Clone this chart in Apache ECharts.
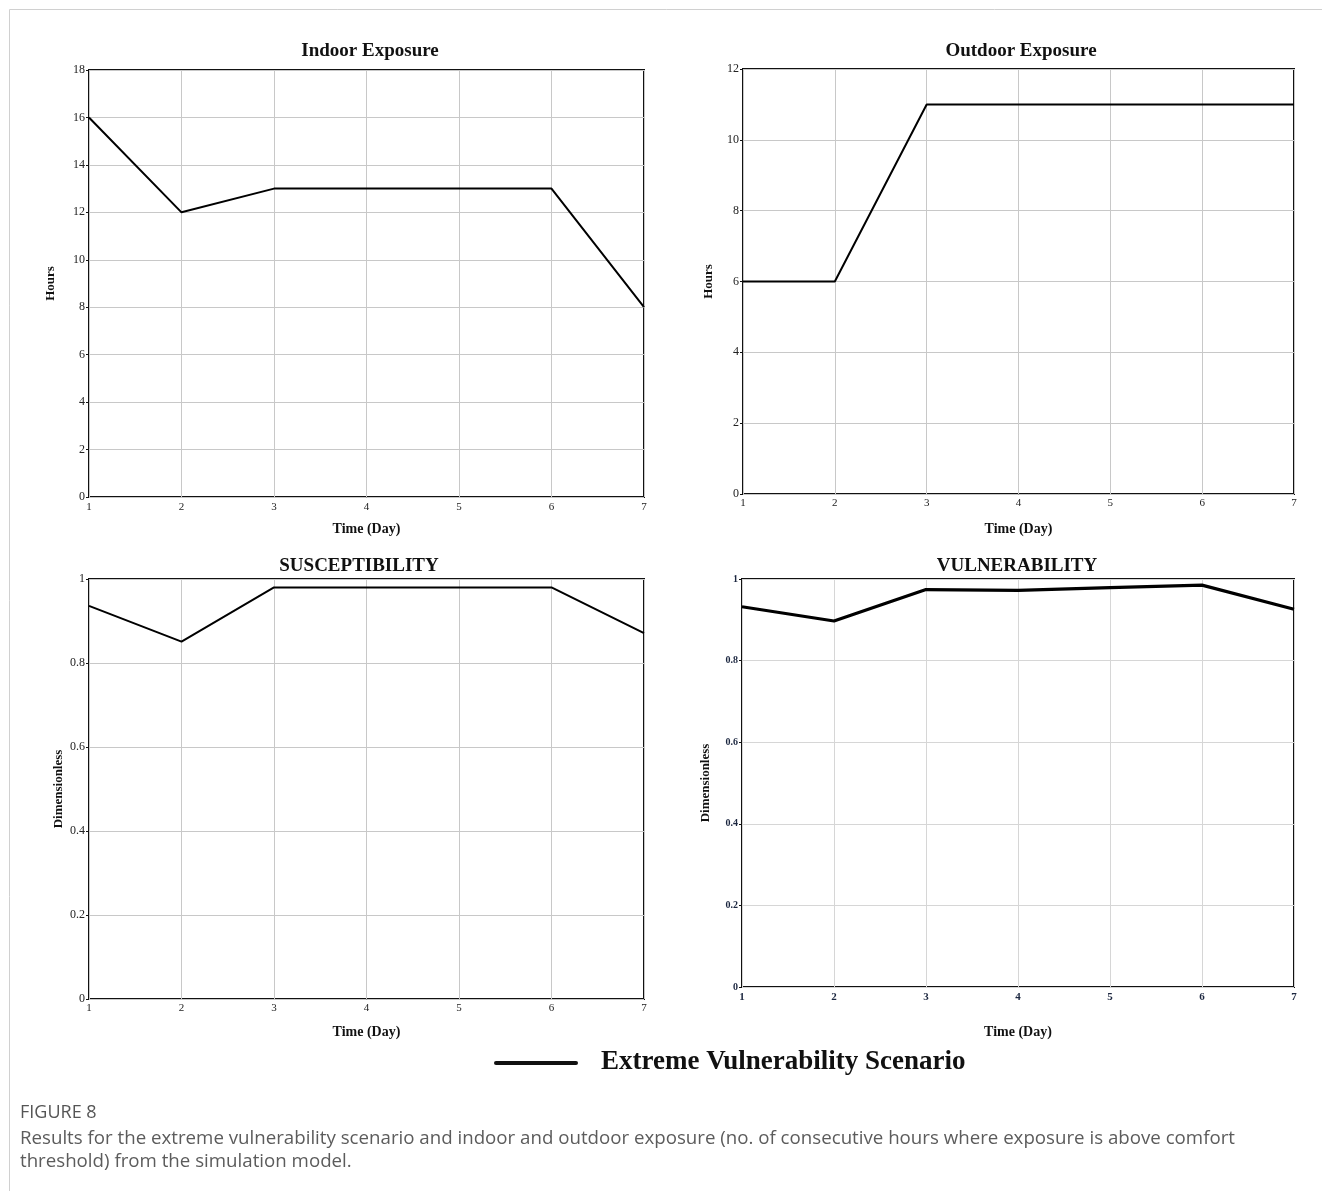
<!DOCTYPE html>
<html>
<head>
<meta charset="utf-8">
<script src="https://cdn.jsdelivr.net/npm/echarts@6/dist/echarts.min.js"></script>
<style>
html,body{margin:0;padding:0;background:#fff;}
#chart{width:1322px;height:1191px;}
</style>
</head>
<body>
<div id="chart"></div>
<script>
const days = [1, 2, 3, 4, 5, 6, 7];
const indoorExposure = [16, 12, 13, 13, 13, 13, 8];
const outdoorExposure = [6, 6, 11, 11, 11, 11, 11];
const susceptibility = [0.936, 0.851, 0.98, 0.98, 0.98, 0.98, 0.871];
const vulnerability = [0.932, 0.897, 0.974, 0.972, 0.979, 0.985, 0.926];
const panelTitles = ['Indoor Exposure', 'Outdoor Exposure', 'SUSCEPTIBILITY', 'VULNERABILITY'];
const yNames = ['Hours', 'Hours', 'Dimensionless', 'Dimensionless'];
const xName = 'Time (Day)';
const legendName = 'Extreme Vulnerability Scenario';
const captionHead = 'FIGURE 8';
const captionText = ['Results for the extreme vulnerability scenario and indoor and outdoor exposure (no. of consecutive hours where exposure is above comfort',
                     'threshold) from the simulation model.'];

const SERIF = '"Liberation Serif", "Times New Roman", serif';
const chart = echarts.init(document.getElementById('chart'), null, {renderer: 'canvas'});

const grids = [
  {left: 89, top: 70, width: 555, height: 427},
  {left: 743, top: 69, width: 551, height: 425},
  {left: 89, top: 579, width: 555, height: 420},
  {left: 742, top: 579, width: 552, height: 408}
].map(g => Object.assign({show: true, borderColor: '#111', borderWidth: 2, backgroundColor: 'transparent'}, g));

const yCfg = [
  {max: 18, interval: 2, gap: 32},
  {max: 12, interval: 2, gap: 28},
  {max: 1, interval: 0.2, gap: 24},
  {max: 1, interval: 0.2, gap: 30}
];
const xGaps = [25, 28, 26, 38];
const xMargins = [5, 4, 4, 5];
const bold4 = i => i === 3;

const xAxis = grids.map((g, i) => ({
  type: 'value', gridIndex: i, min: 1, max: 7, interval: 1,
  name: xName, nameLocation: 'middle', nameGap: xGaps[i],
  nameTextStyle: {fontFamily: SERIF, fontWeight: 'bold', fontSize: 14, color: '#111'},
  axisLine: {show: false}, axisTick: {show: false},
  axisLabel: {fontFamily: SERIF, fontSize: 11, margin: xMargins[i], color: bold4(i) ? '#1c2740' : '#222', fontWeight: bold4(i) ? 'bold' : 'normal'},
  splitLine: {show: true, lineStyle: {color: bold4(i) ? '#d6d6d6' : '#c8c8c8', width: 1}}
}));

const yAxis = grids.map((g, i) => ({
  type: 'value', gridIndex: i, min: 0, max: yCfg[i].max, interval: yCfg[i].interval,
  name: yNames[i], nameLocation: 'middle', nameGap: yCfg[i].gap, nameRotate: 90,
  nameTextStyle: {fontFamily: SERIF, fontWeight: 'bold', fontSize: 13, color: '#111'},
  axisLine: {show: false},
  axisTick: {show: true, length: 3, lineStyle: {color: '#111'}},
  axisLabel: {fontFamily: SERIF, fontSize: bold4(i) ? 10 : 12, margin: 4,
    color: bold4(i) ? '#1c2740' : '#222', fontWeight: bold4(i) ? 'bold' : 'normal',
    formatter: v => String(Math.round(v * 10) / 10)},
  splitLine: {show: true, lineStyle: {color: bold4(i) ? '#d6d6d6' : '#c8c8c8', width: 1}}
}));

const seriesData = [indoorExposure, outdoorExposure, susceptibility, vulnerability];
const series = seriesData.map((arr, i) => ({
  name: legendName, type: 'line', xAxisIndex: i, yAxisIndex: i,
  data: days.map((d, k) => [d, arr[k]]),
  showSymbol: false, symbol: 'none', silent: true, animation: false,
  lineStyle: {color: '#000', width: bold4(i) ? 3.2 : 2}
}));

const titlePos = [[370, 42], [1021, 42], [359, 557], [1017, 557]];
const title = panelTitles.map((t, i) => ({
  text: t, left: titlePos[i][0], top: titlePos[i][1], textAlign: 'center', padding: 0,
  textStyle: {fontFamily: SERIF, fontWeight: 'bold', fontSize: 19, color: '#111'}
}));

const CAP = '"Open Sans", sans-serif';
const option = {
  backgroundColor: '#fff',
  animation: false,
  title: title,
  grid: grids,
  xAxis: xAxis,
  yAxis: yAxis,
  series: series,
  graphic: [
    {type: 'rect', shape: {x: 9.5, y: 9.5, width: 1400, height: 1300}, style: {fill: 'none', stroke: '#d0d0d0', lineWidth: 1}, silent: true, z: -10},
    {type: 'line', shape: {x1: 496, y1: 1063, x2: 576, y2: 1063}, style: {stroke: '#111', lineWidth: 4, lineCap: 'round'}},
    {type: 'text', left: 601, top: 1049, style: {text: legendName, font: 'bold 27px ' + SERIF, fill: '#111'}},
    {type: 'text', left: 20, top: 1104, style: {text: captionHead, font: '18px ' + CAP, fill: '#555'}},
    {type: 'text', left: 20, top: 1129, style: {text: captionText[0], font: '18.7px ' + CAP, fill: '#5c5c5c'}},
    {type: 'text', left: 20, top: 1152, style: {text: captionText[1], font: '18.7px ' + CAP, fill: '#5c5c5c'}}
  ]
};
chart.setOption(option);
</script>
</body>
</html>
